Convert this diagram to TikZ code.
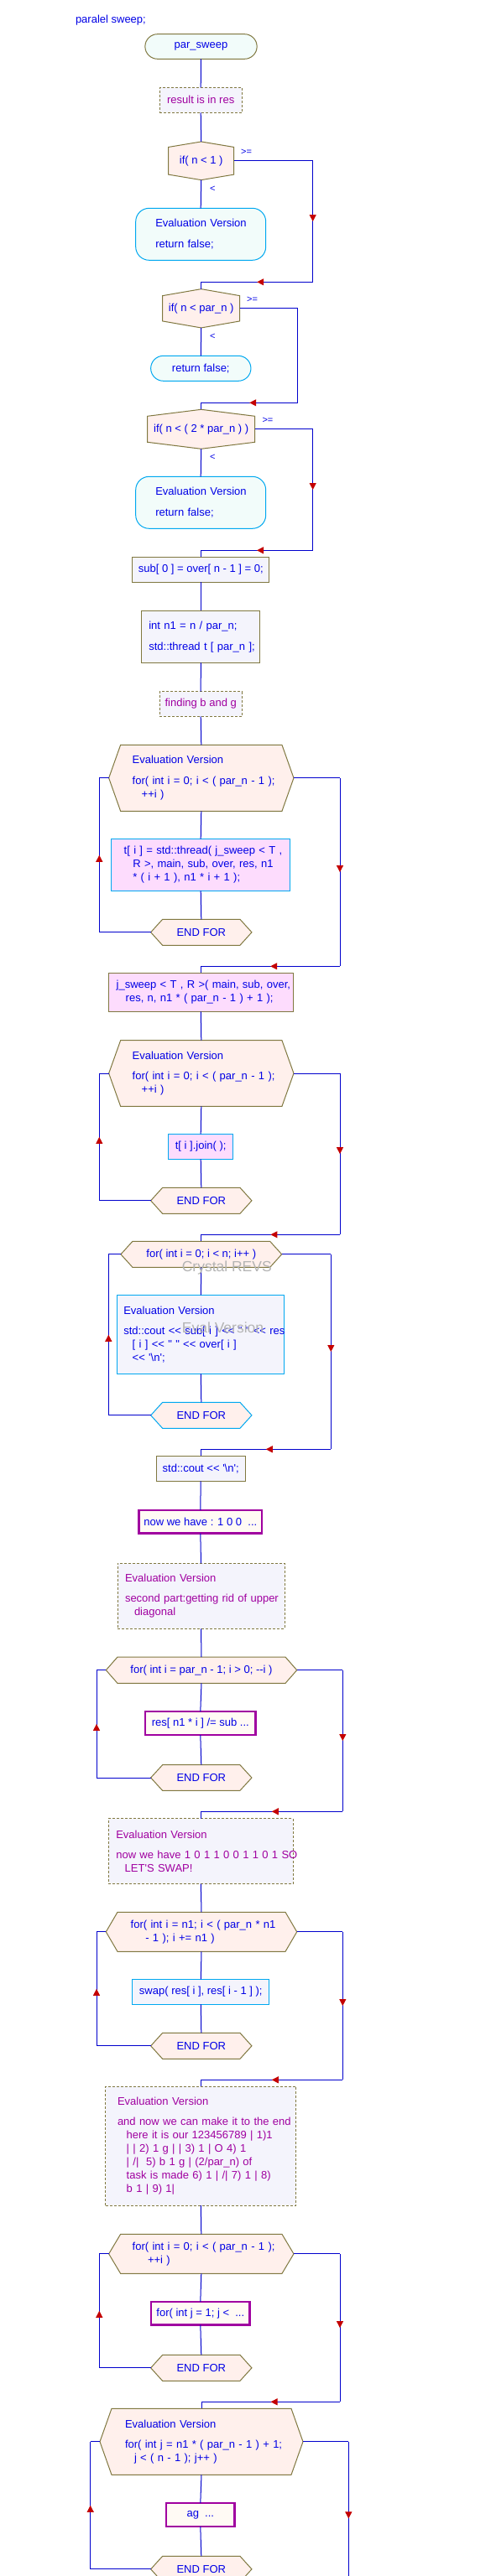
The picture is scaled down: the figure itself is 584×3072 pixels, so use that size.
\documentclass[tikz,border=0pt]{standalone}
\usepackage{fontspec}
\newfontfamily\cf{Liberation Sans}
\usetikzlibrary{arrows.meta,decorations.markings}
\definecolor{tblue}{RGB}{0,0,230}
\definecolor{lblue}{RGB}{0,0,205}
\definecolor{olv}{RGB}{128,120,64}
\definecolor{cyb}{RGB}{0,168,240}
\definecolor{purp}{RGB}{160,0,160}
\definecolor{ared}{RGB}{196,0,0}
\definecolor{peach}{RGB}{255,240,236}
\definecolor{lcyan}{RGB}{242,252,250}
\definecolor{lav}{RGB}{244,244,252}
\definecolor{pinkf}{RGB}{253,220,253}
\definecolor{cream}{RGB}{255,250,244}
\definecolor{wmc}{RGB}{180,180,180}
\pgfdeclarelayer{bg}
\pgfsetlayers{bg,main}
\newcommand\hexLR[3]{%
 \begin{pgfonlayer}{bg}
 \filldraw[fill=peach,draw=#3,line width=1pt] ([xshift=#2]#1.north west) -- ([xshift=-#2]#1.north east) -- (#1.east) -- ([xshift=-#2]#1.south east) -- ([xshift=#2]#1.south west) -- (#1.west) -- cycle;
 \end{pgfonlayer}}
\newcommand\hexTB[2]{%
 \begin{pgfonlayer}{bg}
 \filldraw[fill=peach,draw=olv,line width=1pt] (#1.north) -- ([yshift=-#2]#1.north east) -- ([yshift=#2]#1.south east) -- (#1.south) -- ([yshift=#2]#1.south west) -- ([yshift=-#2]#1.north west) -- cycle;
 \end{pgfonlayer}}
\newcommand\byp[4]{%
 \draw[flow] (#1.east) -- (#1.east -| #3);
 \draw[flow,#4] (#1.east -| #3) -- (#3);
 \draw[flow,marr] (#3) -- (#3 -| #2.north);
 \draw[flow] (#3 -| #2.north) -- (#2.north);}
\newcommand\loopc[5]{%
 \draw[flow] (#2.west) -- (#2.west -| #3);
 \draw[flow,marr] (#2.west -| #3) -- (#1.west -| #3);
 \draw[flow] (#1.west -| #3) -- (#1.west);
 \draw[flow] (#1.east) -- (#1.east -| #4);
 \draw[flow,marr] (#1.east -| #4) -- (#4);
 \draw[flow,marr] (#4) -- (#4 -| #5.north);
 \draw[flow] (#4 -| #5.north) -- (#5.north);}
\tikzset{
 txt/.style={font=\cf\fontsize{13}{16}\selectfont, text=tblue, inner sep=0pt, outer sep=0pt},
 term/.style={txt, draw=olv, fill=lcyan, line width=1pt, rounded corners=15pt},
 termc/.style={term, draw=cyb},
 note/.style={txt, draw=olv, fill=lav, line width=1pt, dash pattern=on 3pt off 2pt, text=purp},
 proc/.style={txt, draw=olv, fill=lav, line width=1pt},
 procc/.style={proc, draw=cyb},
 procpk/.style={proc, fill=pinkf},
 procpkc/.style={procpk, draw=cyb},
 stub/.style={txt, draw=purp, fill=cream, line width=2.6pt},
 hex/.style={txt},
 lbl/.style={font=\cf\fontsize{11}{13}\selectfont, text=tblue, anchor=west, inner sep=0pt},
 flow/.style={draw=lblue, line width=1pt},
 nomark/.style={},
 marr/.style={postaction={decorate},decoration={markings,mark=at position 0.5 with {\arrow{Triangle[width=8pt,length=8pt,color=ared]}}}},
 wmark/.style={font=\cf\fontsize{17.5}{20}\selectfont, text=wmc, inner sep=0pt}
}
\begin{document}
\begin{tikzpicture}[x=1pt,y=-1pt]
\useasboundingbox (0,0) rectangle (584,3072);
\begin{pgfonlayer}{bg}\fill[white] (0,0) rectangle (584,3072);\end{pgfonlayer}

\node[txt, anchor=west] (title) at (90,24) {paralel sweep;};
\node[term, rounded corners=14.8pt, minimum width=133.3pt, minimum height=29.6pt] (t0) at (239.5,55.5) {par\_sweep};
\node[note, minimum width=98.3pt, minimum height=30pt] (c0) at (239.2,119.3) {result is in res};
\node[hex, minimum width=78pt, minimum height=45.7pt] (d1) at (239.7,191.8) {if( n < 1 )};
\hexTB{d1}{6.5pt}
\node[termc, rounded corners=16pt, minimum width=155pt, minimum height=62pt, text width=107.8pt, align=left] (t1) at (239.2,279.3) {\mbox{Evaluation Version}\\[8.6pt]\mbox{return false;}};
\node[hex, minimum width=92pt, minimum height=46.3pt] (d2) at (239.7,367.8) {if( n < par\_n )};
\hexTB{d2}{8pt}
\node[termc, minimum width=119.3pt, minimum height=30pt] (t2) at (239.3,439.3) {return false;};
\node[hex, minimum width=128pt, minimum height=47pt] (d3) at (239.7,511.8) {if( n < ( 2 * par\_n ) )};
\hexTB{d3}{8pt}
\node[termc, rounded corners=16pt, minimum width=155pt, minimum height=62pt, text width=107.8pt, align=left] (t3) at (239.2,599.3) {\mbox{Evaluation Version}\\[8.6pt]\mbox{return false;}};
\node[proc, minimum width=162.7pt, minimum height=30pt] (p1) at (239.3,679.3) {sub[ 0 ] = over[ n - 1 ] = 0;};
\node[proc, minimum width=141.3pt, minimum height=62pt, text width=124pt, align=left] (p2) at (239.3,759.3) {\mbox{int n1 = n / par\_n;}\\[9pt]\mbox{std::thread t [ par\_n ];}};
\node[note, minimum width=98.3pt, minimum height=29.6pt] (c1) at (239.2,839.5) {finding b and g};
\node[hex, minimum width=220.3pt, minimum height=79pt, text width=164.2pt, align=left] (l1) at (239.8,927.8) {\mbox{Evaluation Version}\\[8.6pt]\mbox{for( int i = 0; i < ( par\_n - 1 );}\\\mbox{\hspace*{11pt}++i )}};
\hexLR{l1}{14pt}{olv}
\node[procpkc, minimum width=213pt, minimum height=62pt, text width=183pt, align=left] (p3) at (239.2,1031.3) {\mbox{t[ i ] = std::thread( j\_sweep < T ,}\\\mbox{\hspace*{10.6pt}R >, main, sub, over, res, n1}\\\mbox{\hspace*{10.6pt}* ( i + 1 ), n1 * i + 1 );}};
\node[hex, minimum width=120.3pt, minimum height=31pt] (e1) at (239.8,1111.8) {END FOR};
\hexLR{e1}{14pt}{olv}
\node[procpk, minimum width=220pt, minimum height=46pt, text width=201.2pt, align=left] (p4) at (239.3,1183.3) {\mbox{j\_sweep < T , R >( main, sub, over,}\\\mbox{\hspace*{11pt}res, n, n1 * ( par\_n - 1 ) + 1 );}};
\node[hex, minimum width=220.3pt, minimum height=78.6pt, text width=164.2pt, align=left] (l2) at (239.8,1280) {\mbox{Evaluation Version}\\[8.6pt]\mbox{for( int i = 0; i < ( par\_n - 1 );}\\\mbox{\hspace*{11pt}++i )}};
\hexLR{l2}{14pt}{olv}
\node[procpkc, minimum width=77pt, minimum height=30pt] (p5) at (239.2,1367.3) {t[ i ].join( );};
\node[hex, minimum width=120.3pt, minimum height=31pt] (e2) at (239.8,1431.8) {END FOR};
\hexLR{e2}{14pt}{olv}
\node[hex, minimum width=191.7pt, minimum height=31pt] (l3) at (239.8,1495.8) {for( int i = 0; i < n; i++ )};
\hexLR{l3}{14pt}{olv}
\node[procc, minimum width=198.7pt, minimum height=94pt, text width=184pt, align=left] (p6) at (239.3,1591.3) {\mbox{Evaluation Version}\\[8pt]\mbox{std::cout << sub[ i ] << " " << res}\\\mbox{\hspace*{10.4pt}[ i ] << " " << over[ i ]}\\\mbox{\hspace*{10.4pt}<< \textquotesingle\textbackslash n\textquotesingle;}};
\node[hex, minimum width=120.3pt, minimum height=31pt] (e3) at (239.8,1687.8) {END FOR};
\hexLR{e3}{14pt}{cyb}
\node[proc, minimum width=105.7pt, minimum height=30pt] (p7) at (239.2,1751.3) {std::cout << \textquotesingle\textbackslash n\textquotesingle;};
\node[stub, minimum width=146.4pt, minimum height=27.7pt] (p8) at (238.8,1814.8) {now we have : 1 0 0~ ...};
\node[note, minimum width=199pt, minimum height=78pt, text width=181pt, align=left] (c2) at (239.5,1903.3) {\mbox{Evaluation Version}\\[8.3pt]\mbox{second part:getting rid of upper}\\\mbox{\hspace*{11pt}diagonal}};
\node[hex, minimum width=227.4pt, minimum height=31.3pt] (l4) at (240,1991.7) {for( int i = par\_n - 1; i > 0; -{}-i )};
\hexLR{l4}{13.7pt}{olv}
\node[stub, minimum width=131.7pt, minimum height=28pt] (p9) at (238.8,2055) {res[ n1 * i ] /= sub ...};
\node[hex, minimum width=120.3pt, minimum height=30.6pt] (e4) at (239.8,2120) {END FOR};
\hexLR{e4}{14pt}{olv}
\node[note, minimum width=220pt, minimum height=78pt, text width=202pt, align=left] (c3) at (239.3,2207.7) {\mbox{Evaluation Version}\\[8pt]\mbox{now we have 1 0 1 1 0 0 1 1 0 1 SO}\\\mbox{\hspace*{10.4pt}LET\textquotesingle S SWAP!}};
\node[hex, minimum width=227.4pt, minimum height=47pt, text width=168.6pt, align=left] (l5) at (240,2303.8) {\mbox{for( int i = n1; i < ( par\_n * n1}\\\mbox{\hspace*{17.6pt}- 1 ); i += n1 )}};
\hexLR{l5}{13.7pt}{olv}
\node[procc, minimum width=162.7pt, minimum height=30pt] (p10) at (239.3,2375.3) {swap( res[ i ], res[ i - 1 ] );};
\node[hex, minimum width=120.3pt, minimum height=31pt] (e5) at (239.8,2439.8) {END FOR};
\hexLR{e5}{14pt}{olv}
\node[note, minimum width=227.3pt, minimum height=141.7pt, text width=198.6pt, align=left] (c4) at (239.3,2559.2) {\mbox{Evaluation Version}\\[8.4pt]\mbox{and now we can make it to the end}\\\mbox{\hspace*{10.7pt}here it is our 123456789 | 1)1}\\\mbox{\hspace*{10.7pt}| | 2) 1 g | | 3) 1 | O 4) 1}\\\mbox{\hspace*{10.7pt}| /|~ 5) b 1 g | (2/par\_n) of}\\\mbox{\hspace*{10.7pt}task is made 6) 1 | /| 7) 1 | 8)}\\\mbox{\hspace*{10.7pt}b 1 | 9) 1|}};
\node[hex, minimum width=220.3pt, minimum height=47pt, text width=164.2pt, align=left] (l6) at (239.8,2687.8) {\mbox{for( int i = 0; i < ( par\_n - 1 );}\\\mbox{\hspace*{18.3pt}++i )}};
\hexLR{l6}{14pt}{olv}
\node[stub, minimum width=117.7pt, minimum height=27.7pt] (p11) at (238.8,2758.8) {for( int j = 1; j <~ ...};
\node[hex, minimum width=120.3pt, minimum height=31pt] (e6) at (239.8,2823.8) {END FOR};
\hexLR{e6}{14pt}{olv}
\node[hex, minimum width=242pt, minimum height=79pt, text width=182pt, align=left] (l7) at (240,2911.8) {\mbox{Evaluation Version}\\[8.3pt]\mbox{for( int j = n1 * ( par\_n - 1 ) + 1;}\\\mbox{\hspace*{11pt}j < ( n - 1 ); j++ )}};
\hexLR{l7}{14pt}{olv}
\node[stub, minimum width=81.7pt, minimum height=28pt] (p12) at (238.8,2999) {ag~ ...};
\node[hex, minimum width=120.3pt, minimum height=31pt] (e7) at (239.8,3063.8) {END FOR};
\hexLR{e7}{14pt}{olv}

% labels
\node[lbl] (g1) at (287,181.7) {>=};
\node[lbl] (s1) at (250,225.7) {<};
\node[lbl] (g2) at (294,357.3) {>=};
\node[lbl] (s2) at (250,401.7) {<};
\node[lbl] (g3) at (312.3,501.7) {>=};
\node[lbl] (s3) at (250,545.3) {<};

% straight connectors
\foreach \a/\b in {t0/c0,c0/d1,d1/t1,d2/t2,d3/t3,p1/p2,p2/c1,c1/l1,l1/p3,p3/e1,p4/l2,l2/p5,p5/e2,l3/p6,p6/e3,p7/p8,p8/c2,c2/l4,l4/p9,p9/e4,c3/l5,l5/p10,p10/e5,c4/l6,l6/p11,p11/e6,l7/p12,p12/e7}
  \draw[flow] (\a.south) -- (\b.north);

% if bypasses
\coordinate (r1) at (372.7,336.3);
\coordinate (r2) at (354.7,480.3);
\coordinate (r3) at (372.7,656.3);
\byp{d1}{d2}{r1}{marr}
\byp{d2}{d3}{r2}{nomark}
\byp{d3}{p1}{r3}{marr}

% loops
\coordinate (lc1) at (118.3,0); \coordinate (rc1) at (405,1152.3);
\coordinate (lc2) at (118.3,0); \coordinate (rc2) at (405,1472.3);
\coordinate (lc3) at (129.3,0); \coordinate (rc3) at (394.3,1728.3);
\coordinate (lc4) at (115,0);   \coordinate (rc4) at (408.3,2160.3);
\coordinate (lc5) at (115,0);   \coordinate (rc5) at (408.3,2480.3);
\coordinate (lc6) at (118.3,0); \coordinate (rc6) at (405,2864.3);
\coordinate (lc7) at (107.7,0); \coordinate (rc7) at (415.3,3095);
\loopc{l1}{e1}{lc1}{rc1}{p4}
\loopc{l2}{e2}{lc2}{rc2}{l3}
\loopc{l3}{e3}{lc3}{rc3}{p7}
\loopc{l4}{e4}{lc4}{rc4}{c3}
\loopc{l5}{e5}{lc5}{rc5}{c4}
\loopc{l6}{e6}{lc6}{rc6}{l7}
\draw[flow] (e7.west) -- (e7.west -| lc7);
\draw[flow,marr] (e7.west -| lc7) -- (l7.west -| lc7);
\draw[flow] (l7.west -| lc7) -- (l7.west);
\draw[flow] (l7.east) -- (l7.east -| rc7);
\draw[flow,marr] (l7.east -| rc7) -- (rc7);

% watermarks
\node[wmark] (wm1) at (270.3,1512) {Crystal REVS};
\node[wmark] (wm2) at (265.5,1583.7) {Eval Version};
\end{tikzpicture}
\end{document}
